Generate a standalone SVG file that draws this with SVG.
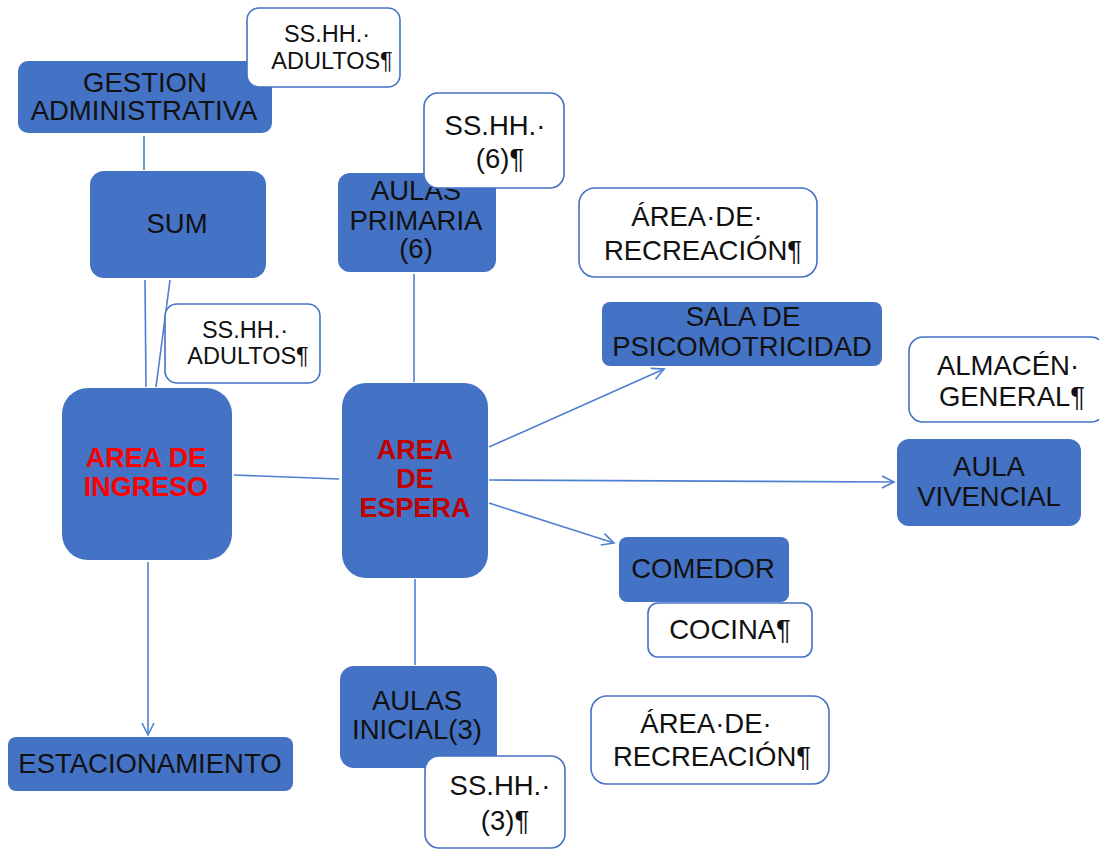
<svg xmlns="http://www.w3.org/2000/svg" width="1099" height="850" viewBox="0 0 1099 850">
  <defs>
    <marker id="arrow" markerUnits="userSpaceOnUse" markerWidth="16" markerHeight="16" refX="13" refY="7" orient="auto">
      <path d="M1,1 L13,7 L1,13" fill="none" stroke="#4f7fd0" stroke-width="1.6"/>
    </marker>
    <style>
      .blue { fill: #4472c4; }
      .note { fill: #ffffff; stroke: #4472c4; stroke-width: 1.6; }
      .lbl { font-family: "Liberation Sans", Arial, sans-serif; font-size: 27.5px; fill: #111111; text-anchor: middle; }
      .sm { font-size: 23.5px; }
      .key { font-family: "Liberation Sans", Arial, sans-serif; font-size: 27px; font-weight: bold; text-anchor: middle; }
      .link { fill: none; stroke: #4f7fd0; stroke-width: 1.6; }
    </style>
  </defs>
  <rect width="1099" height="850" fill="#ffffff"/>

  <!-- connectors -->
  <g id="connectors">
    <line class="link" x1="144" y1="136" x2="144" y2="170"/>
    <line class="link" x1="145" y1="280" x2="146" y2="387"/>
    <line class="link" x1="170" y1="280" x2="156" y2="387"/>
    <line class="link" x1="234" y1="475" x2="339" y2="479"/>
    <line class="link" x1="414" y1="274" x2="414" y2="382"/>
    <line class="link" x1="415" y1="579" x2="415" y2="665"/>
    <line class="link" x1="148" y1="562" x2="148" y2="735" marker-end="url(#arrow)"/>
    <line class="link" x1="489" y1="447" x2="664" y2="369" marker-end="url(#arrow)"/>
    <line class="link" x1="489" y1="480" x2="894" y2="482" marker-end="url(#arrow)"/>
    <line class="link" x1="489" y1="503" x2="614" y2="543" marker-end="url(#arrow)"/>
  </g>

  <g id="gestion">
    <rect class="blue" x="18" y="61" width="254" height="72" rx="10"/>
    <text class="lbl" x="145" y="92">GESTION</text>
    <text class="lbl" x="144" y="120">ADMINISTRATIVA</text>
  </g>

  <g id="sshh-adultos-1">
    <rect class="note" x="247" y="8" width="153" height="79" rx="12"/>
    <text class="lbl sm" x="327" y="42">SS.HH.·</text>
    <text class="lbl sm" x="332" y="69">ADULTOS¶</text>
  </g>

  <g id="sum">
    <rect class="blue" x="90" y="171" width="176" height="107" rx="14"/>
    <text class="lbl" x="177" y="233">SUM</text>
  </g>

  <g id="sshh-adultos-2">
    <rect class="note" x="165" y="304" width="155" height="79" rx="12"/>
    <text class="lbl sm" x="245" y="338">SS.HH.·</text>
    <text class="lbl sm" x="248" y="364">ADULTOS¶</text>
  </g>

  <g id="area-ingreso">
    <rect class="blue" x="62" y="388" width="170" height="172" rx="26"/>
    <text class="key" x="146" y="467" fill="#ff0000">AREA DE</text>
    <text class="key" x="146" y="496" fill="#ff0000">INGRESO</text>
  </g>

  <g id="aulas-primaria">
    <rect class="blue" x="338" y="173" width="158" height="99" rx="12"/>
    <text class="lbl" x="416" y="200">AULAS</text>
    <text class="lbl" x="416" y="230">PRIMARIA</text>
    <text class="lbl" x="416" y="258">(6)</text>
  </g>

  <g id="sshh-6">
    <rect class="note" x="424" y="93" width="140" height="95" rx="14"/>
    <text class="lbl" x="495" y="135">SS.HH.·</text>
    <text class="lbl" x="500" y="168">(6)¶</text>
  </g>

  <g id="area-espera">
    <rect class="blue" x="342" y="383" width="146" height="195" rx="24"/>
    <text class="key" x="415" y="459" fill="#c00000">AREA</text>
    <text class="key" x="415" y="488" fill="#c00000">DE</text>
    <text class="key" x="415" y="517" fill="#c00000">ESPERA</text>
  </g>

  <g id="recreacion-1">
    <rect class="note" x="579" y="188" width="238" height="89" rx="16"/>
    <text class="lbl" x="697" y="226">ÁREA·DE·</text>
    <text class="lbl" x="703" y="260">RECREACIÓN¶</text>
  </g>

  <g id="psicomotricidad">
    <rect class="blue" x="602" y="302" width="280" height="64" rx="8"/>
    <text class="lbl" x="743" y="326">SALA DE</text>
    <text class="lbl" x="742" y="356">PSICOMOTRICIDAD</text>
  </g>

  <g id="almacen">
    <rect class="note" x="909" y="337" width="196" height="85" rx="14"/>
    <text class="lbl" x="1008" y="375">ALMACÉN·</text>
    <text class="lbl" x="1012" y="406">GENERAL¶</text>
  </g>

  <g id="aula-vivencial">
    <rect class="blue" x="897" y="439" width="184" height="87" rx="12"/>
    <text class="lbl" x="989" y="476">AULA</text>
    <text class="lbl" x="989" y="506">VIVENCIAL</text>
  </g>

  <g id="comedor">
    <rect class="blue" x="619" y="537" width="170" height="65" rx="8"/>
    <text class="lbl" x="703" y="578">COMEDOR</text>
  </g>

  <g id="cocina">
    <rect class="note" x="648" y="603" width="164" height="54" rx="10"/>
    <text class="lbl" x="730" y="639">COCINA¶</text>
  </g>

  <g id="aulas-inicial">
    <rect class="blue" x="340" y="666" width="157" height="102" rx="14"/>
    <text class="lbl" x="417" y="710">AULAS</text>
    <text class="lbl" x="417" y="739">INICIAL(3)</text>
  </g>

  <g id="sshh-3">
    <rect class="note" x="425" y="756" width="140" height="92" rx="14"/>
    <text class="lbl" x="500" y="795">SS.HH.·</text>
    <text class="lbl" x="505" y="830">(3)¶</text>
  </g>

  <g id="recreacion-2">
    <rect class="note" x="591" y="696" width="238" height="88" rx="16"/>
    <text class="lbl" x="706" y="733">ÁREA·DE·</text>
    <text class="lbl" x="712" y="766">RECREACIÓN¶</text>
  </g>

  <g id="estacionamiento">
    <rect class="blue" x="8" y="737" width="285" height="54" rx="8"/>
    <text class="lbl" x="150" y="773">ESTACIONAMIENTO</text>
  </g>
</svg>
